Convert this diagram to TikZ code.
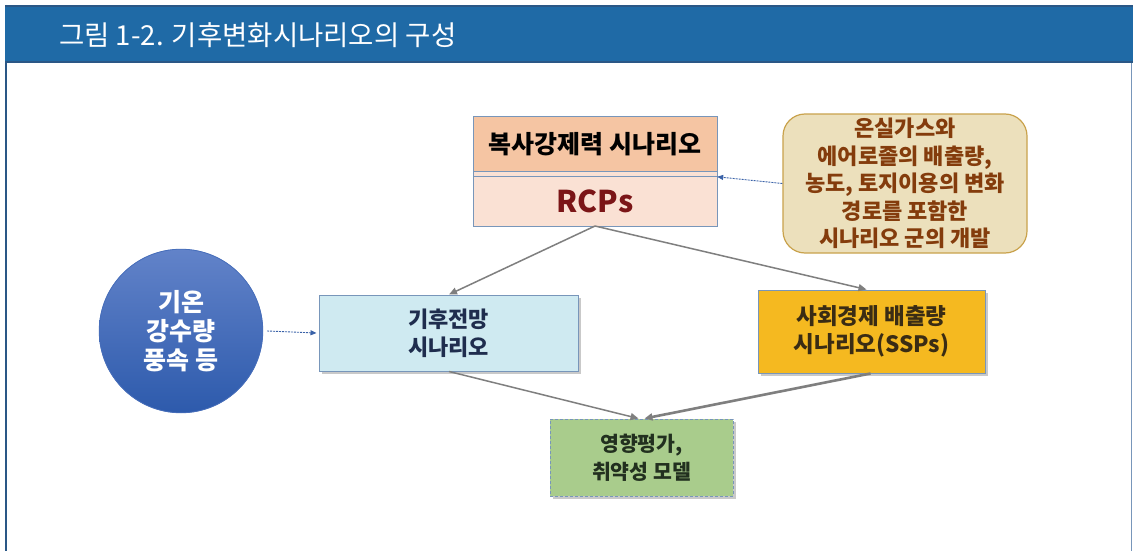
\documentclass[tikz,border=0pt]{standalone}
\usepackage{fontspec}
\setmainfont{Noto Sans CJK KR}
\usetikzlibrary{arrows.meta,shadows}
\definecolor{hdr}{HTML}{1F6AA6}
\definecolor{hdrdark}{HTML}{2A5786}
\definecolor{bord}{HTML}{7896BA}
\definecolor{peach}{HTML}{F5C5A3}
\definecolor{peachlt}{HTML}{FAE1D4}
\definecolor{rcptxt}{HTML}{7B1517}
\definecolor{callfill}{HTML}{ECE0BC}
\definecolor{calldraw}{HTML}{C9A24C}
\definecolor{calltxt}{HTML}{843C0C}
\definecolor{circtop}{HTML}{6283C9}
\definecolor{circbot}{HTML}{2D5AAC}
\definecolor{cyanfill}{HTML}{CFEAF1}
\definecolor{navytxt}{HTML}{1F2D4E}
\definecolor{sspfill}{HTML}{F5B920}
\definecolor{ssptxt}{HTML}{3A2C14}
\definecolor{greenfill}{HTML}{A9CC8C}
\definecolor{greentxt}{HTML}{22301F}
\definecolor{arr}{HTML}{7F7F7F}
\definecolor{dash}{HTML}{3A62A8}
\tikzset{
  boxsh/.style={drop shadow={opacity=0.35,shadow xshift=2.5pt,shadow yshift=-2.5pt,fill=black!60}},
  grayarrow/.style={draw=arr,line width=1.5pt,-{Triangle[length=8pt,width=7pt]}},
  dasharrow/.style={draw=dash,line width=0.9pt,dash pattern=on 2pt off 1pt,-{Triangle[length=6pt,width=5pt]}},
  btext/.style={align=center},
}
\begin{document}
\begin{tikzpicture}[x=1pt,y=-1pt]
\useasboundingbox (0,0) rectangle (1133,551);
\fill[white] (0,0) rectangle (1133,551);
% frame
\draw[hdrdark,line width=2pt] (6,5) -- (6,551);
\draw[bord,line width=1pt] (1131,5) -- (1131,551);
\fill[hdr] (5,5) rectangle (1133,63);
\draw[hdrdark,line width=2pt] (5,6) -- (1133,6);
\draw[hdrdark,line width=2pt] (5,62) -- (1133,62);
\node[anchor=west,text=white,font=\fontsize{27.5}{30}\selectfont,inner sep=0pt] (title) at (59,35) {그림 1-2. 기후변화시나리오의 구성};

% RCP box
\fill[peachlt] (473,116) rectangle (717,226);
\node[fill=peach,minimum width=244pt,minimum height=56pt,inner sep=0pt,font=\fontsize{25}{28}\selectfont\bfseries] (rcptop) at (595,144) {복사강제력 시나리오};
\node[minimum width=244pt,minimum height=50pt,inner sep=0pt,text=rcptxt,font=\fontsize{30}{32}\selectfont\bfseries] (rcp) at (595,201) {RCPs};
\draw[bord,line width=1pt] (473,116) rectangle (717,226);
\draw[bord,line width=1pt] (473,171.5) -- (717,171.5);
\draw[bord,line width=0.8pt] (473,176) -- (717,176);

% callout
\node[draw=calldraw,fill=callfill,line width=1.2pt,rounded corners=22pt,minimum width=244pt,minimum height=139pt,text=calltxt,btext,font=\fontsize{22}{27.5}\selectfont\bfseries] (call) at (905,183.5) {온실가스와\\에어로졸의 배출량,\\농도, 토지이용의 변화\\경로를 포함한\\시나리오 군의 개발};

% circle
\shade[top color=circtop,bottom color=circbot] (181,331) circle[radius=82pt];
\draw[circtop!50!circbot,line width=0.8pt] (181,331) circle[radius=81.8pt];
\node[circle,minimum size=164pt,inner sep=0pt,text=white,font=\fontsize{25}{29}\selectfont\bfseries,align=center] (circ) at (181,331) {기온\\강수량\\풍속 등};

% climate box
\node[boxsh,draw=bord,fill=cyanfill,line width=1pt,minimum width=259pt,minimum height=76pt,inner sep=0pt,text=navytxt,btext,font=\fontsize{22}{28}\selectfont\bfseries] (clim) at (448.5,333) {기후전망\\시나리오};

% SSP box
\node[boxsh,draw=bord,fill=sspfill,line width=1pt,minimum width=227pt,minimum height=83pt,inner sep=0pt,text=ssptxt,btext,font=\fontsize{22.5}{27.5}\selectfont\bfseries] (ssp) at (871.5,331.5) {사회경제 배출량\\시나리오(SSPs)};

% green box
\node[boxsh,draw=bord,fill=greenfill,line width=1pt,densely dashed,minimum width=183pt,minimum height=77pt,inner sep=0pt,text=greentxt,btext,font=\fontsize{20.5}{28}\selectfont\bfseries] (impact) at (641.5,457.5) {영향평가,\\취약성 모델};

% connectors
\coordinate (rcpout) at (595,226);
\draw[grayarrow] (rcpout) -- ([xshift=0.5pt]clim.north);
\draw[grayarrow] (rcpout) -- ([xshift=-5pt]ssp.north);
\draw[grayarrow] ([xshift=0.5pt]clim.south) -- ([xshift=-3pt]impact.north);
\draw[grayarrow,line width=2.6pt] ([xshift=-1pt]ssp.south) -- ([xshift=3pt]impact.north);
\draw[dasharrow] (call.west) -- ([yshift=-1pt]rcp.north east);
\draw[dasharrow] ([xshift=4pt]circ.east) -- ([xshift=-2pt]clim.west);
\end{tikzpicture}
\end{document}
